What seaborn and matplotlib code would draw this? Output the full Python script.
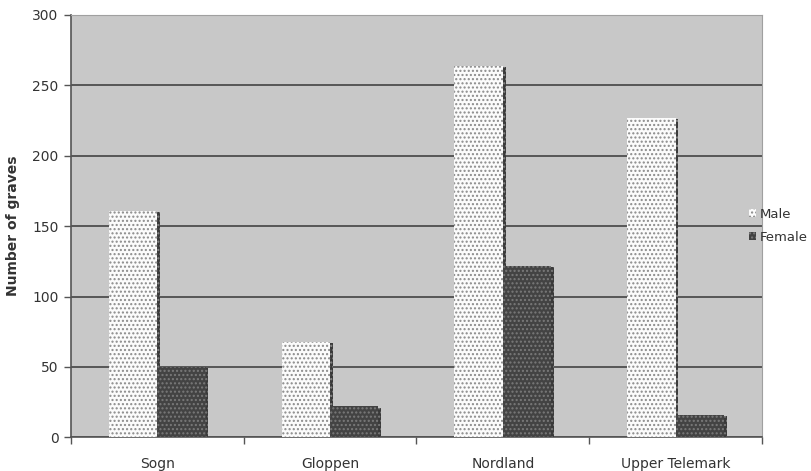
import matplotlib
matplotlib.use("Agg")
import matplotlib.pyplot as plt
import matplotlib.patheffects as pe
from matplotlib.patches import Patch
import seaborn as sns
import pandas as pd

regions = ["Sogn", "Gloppen", "Nordland", "Upper Telemark"]
male = [161, 68, 264, 227]
female = [50, 22, 122, 16]
yticks = [0, 50, 100, 150, 200, 250, 300]

df = pd.DataFrame({
    "region": regions * 2,
    "sex": ["Male"] * len(regions) + ["Female"] * len(regions),
    "graves": male + female,
})

sns.set_style("white")
plt.rcParams["font.family"] = ["DejaVu Sans"]
plt.rcParams["hatch.linewidth"] = 1.0

fig = plt.figure(figsize=(8.11, 4.71), dpi=100)
ax = fig.add_axes([0.0875, 0.0716, 0.852, 0.8966])
ax.set_facecolor("#c8c8c8")

palette = {"Male": "#fbfbfb", "Female": "#434343"}
sns.barplot(data=df, x="region", y="graves", hue="sex", hue_order=["Male", "Female"],
            palette=palette, width=0.56, saturation=1, ax=ax, legend=False, zorder=3)

hatch_col = {"Male": "#8a8a8a", "Female": "#7a7a7a"}
shadow = [pe.SimplePatchShadow(offset=(2, -1), shadow_rgbFace="#3a3a3a", alpha=1.0), pe.Normal()]
for cont, sex in zip(ax.containers, ["Male", "Female"]):
    for bar in cont:
        bar.set_hatch("....")
        bar.set_edgecolor(hatch_col[sex])
        bar.set_linewidth(0)
        bar.set_path_effects(shadow)

ax.set_ylim(0, 300)
ax.set_xlim(-0.5, len(regions) - 0.5)
ax.set_yticks(yticks)
ax.yaxis.grid(True, color="#4e4e4e", linewidth=1.3, zorder=1)
ax.set_axisbelow(True)

# category boundaries carry the tick marks, labels sit at the centres
ax.set_xticks([i - 0.5 for i in range(len(regions) + 1)])
ax.set_xticklabels([])
ax.set_xticks(range(len(regions)), minor=True)
ax.set_xticklabels(regions, minor=True, fontsize=10, color="#333333")
ax.tick_params(axis="x", which="major", length=5, width=1, color="#555555", direction="out")
ax.tick_params(axis="x", which="minor", length=0, pad=14)
ax.tick_params(axis="y", length=5, width=1, color="#555555", direction="out",
               labelsize=10, labelcolor="#333333", pad=4)
ax.tick_params(axis="both", bottom=True, left=True)

ax.set_xlabel("")
ax.set_ylabel("Number of graves", fontsize=10, fontweight="bold", color="#333333", labelpad=9)

for side in ["top", "right"]:
    ax.spines[side].set_visible(True)
    ax.spines[side].set_color("#a0a0a0")
    ax.spines[side].set_linewidth(0.8)
for side in ["left", "bottom"]:
    ax.spines[side].set_color("#555555")
    ax.spines[side].set_linewidth(1.2)

handles = [Patch(facecolor=palette[s], edgecolor=hatch_col[s], hatch="....", linewidth=0, label=s)
           for s in ["Male", "Female"]]
fig.legend(handles=handles, loc="center left", bbox_to_anchor=(0.912, 0.52), frameon=False,
           handlelength=0.55, handleheight=0.55, handletextpad=0.3, labelspacing=0.75,
           fontsize=9.5, labelcolor="#333333", borderpad=0.2)

fig.savefig("out.png", dpi=100, facecolor="white")
